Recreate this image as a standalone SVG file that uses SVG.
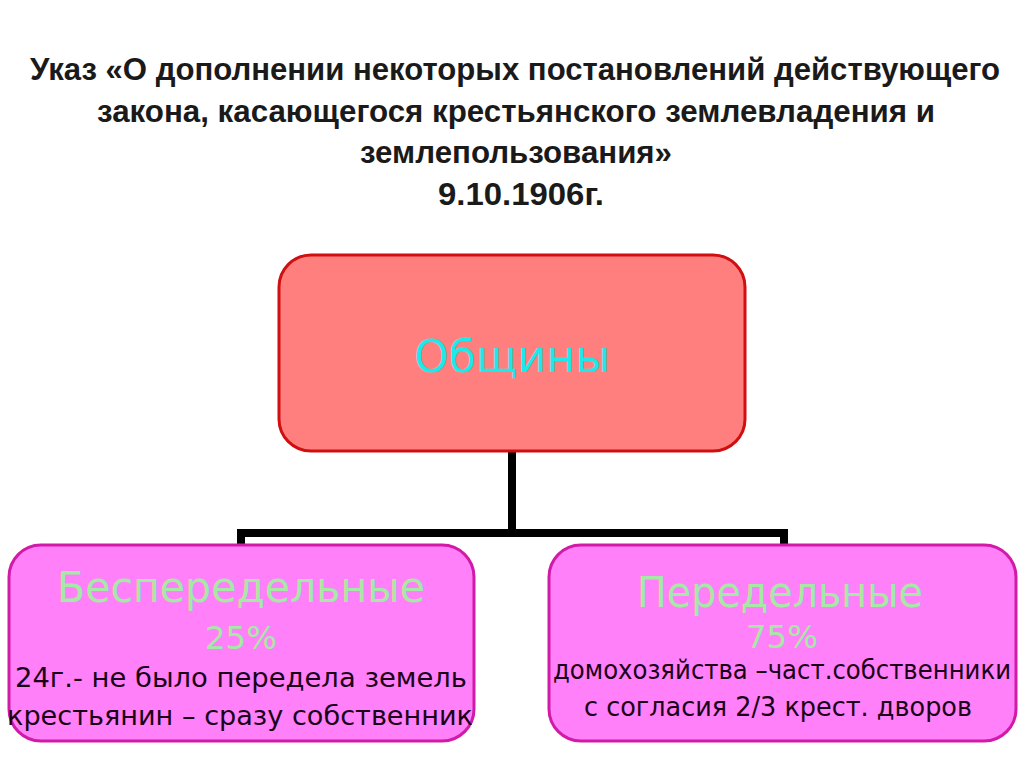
<svg xmlns="http://www.w3.org/2000/svg" width="1024" height="767" viewBox="0 0 1024 767">
<style>
.title{font-family:"Liberation Sans Narrow","Liberation Sans",sans-serif;font-weight:bold;font-size:31px;fill:#1a1a1a;text-anchor:middle}
.big{font-family:"DejaVu Sans",Verdana,sans-serif;text-anchor:middle}
.head{font-size:42px;fill:#A6E8A6}
.pct{font-size:32px;fill:#A6E8A6}
.body{font-size:26px;fill:#1a0018}
.sub{fill:#FF80F8;stroke:#D21AA8;stroke-width:3}
.conn{fill:none;stroke:#000;stroke-width:8;stroke-linejoin:miter}
</style>
<rect width="1024" height="767" fill="#fff"/>
<g id="title">
<text class="title" x="515" y="80" textLength="970" lengthAdjust="spacingAndGlyphs">Указ «О дополнении некоторых постановлений действующего</text>
<text class="title" x="516" y="122" textLength="838" lengthAdjust="spacingAndGlyphs">закона, касающегося крестьянского землевладения и</text>
<text class="title" x="516" y="163" textLength="312" lengthAdjust="spacingAndGlyphs">землепользования»</text>
<text class="title" x="521" y="205" textLength="166" lengthAdjust="spacingAndGlyphs">9.10.1906г.</text>
</g>
<g id="connectors">
<path class="conn" d="M512 452 V533 M241 546 V533 H784 V546"/>
</g>
<g id="obshchiny">
<rect x="279" y="255" width="466" height="196" rx="32" fill="#FF7F7F" stroke="#D01010" stroke-width="3"/>
<text class="big" x="512" y="372" font-size="44" fill="#20E8E8" textLength="196" lengthAdjust="spacingAndGlyphs">Общины</text>
</g>
<g id="bespered">
<rect class="sub" x="9" y="545" width="465" height="196" rx="32"/>
<text class="big head" x="241" y="602" textLength="368" lengthAdjust="spacingAndGlyphs">Беспередельные</text>
<text class="big pct" x="241" y="649" textLength="72" lengthAdjust="spacingAndGlyphs">25%</text>
<text class="big body" x="241" y="687" textLength="452" lengthAdjust="spacingAndGlyphs">24г.- не было передела земель</text>
<text class="big body" x="240" y="725" textLength="466" lengthAdjust="spacingAndGlyphs">крестьянин – сразу собственник</text>
</g>
<g id="peredel">
<rect class="sub" x="549" y="545" width="467" height="196" rx="32"/>
<text class="big head" x="780" y="607" textLength="286" lengthAdjust="spacingAndGlyphs">Передельные</text>
<text class="big pct" x="782" y="648" textLength="72" lengthAdjust="spacingAndGlyphs">75%</text>
<text class="big body" x="782" y="679" textLength="458" lengthAdjust="spacingAndGlyphs">домохозяйства –част.собственники</text>
<text class="big body" x="778" y="716" textLength="388" lengthAdjust="spacingAndGlyphs">с согласия 2/3 крест. дворов</text>
</g>
</svg>
